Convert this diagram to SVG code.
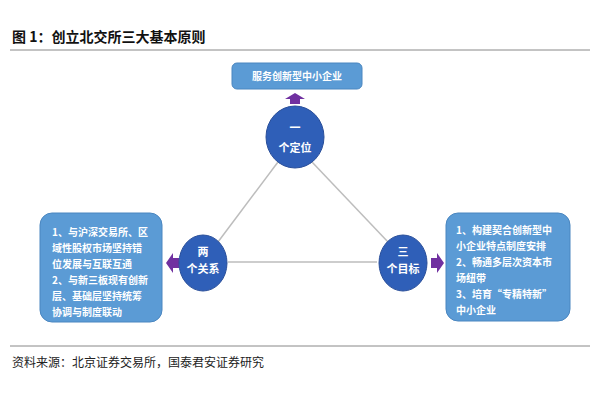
<svg xmlns="http://www.w3.org/2000/svg" width="600" height="400" viewBox="0 0 600 400">
<style>
text{font-family:"Noto Sans CJK SC",sans-serif;}
.t{font-size:14px;font-weight:bold;fill:#111;}
.s{font-size:12px;fill:#222;}
.b{fill:#5b9bd5;stroke:#4a86c0;stroke-width:1;}
.c{fill:#2f5fb8;stroke:#2a4f9a;stroke-width:1;}
.w{fill:#fff;font-size:10px;font-weight:bold;}
.cw{fill:#fff;font-size:11px;font-weight:bold;text-anchor:middle;}
.ln{stroke:#bdbdbd;stroke-width:1.5;fill:none;}
.ar{fill:#7030a0;}
</style>
<rect width="600" height="400" fill="#fff"/>
<text class="t" x="12" y="42">图 1：创立北交所三大基本原则</text>
<line x1="10" y1="50" x2="590" y2="50" stroke="#888" stroke-width="1"/>
<g id="connectors">
<line class="ln" x1="278" y1="162" x2="218" y2="242"/>
<line class="ln" x1="312" y1="162" x2="388" y2="242"/>
<line class="ln" x1="228" y1="262" x2="377" y2="262"/>
<path class="ar" d="M290 104 V99 H285 L295 93 L305 99 H300 V104 Z"/>
<path class="ar" d="M179 258 H173 V253 L166 263 L173 273 V268 H179 Z"/>
<path class="ar" d="M431 258 H437 V253 L444 263 L437 273 V268 H431 Z"/>
</g>
<g id="top-box"><rect class="b" x="232" y="63" width="130" height="26" rx="5"/>
<text class="w" x="297" y="80" text-anchor="middle">服务创新型中小企业</text></g>
<g id="node-top"><ellipse class="c" cx="295" cy="137" rx="29" ry="31"/>
<text class="cw" x="295" y="132">一</text><text class="cw" x="295" y="152" font-size="10">个定位</text></g>
<g id="node-left"><ellipse class="c" cx="203" cy="263" rx="24" ry="28"/>
<text class="cw" x="203" y="256">两</text><text class="cw" x="203" y="273" font-size="9">个关系</text></g>
<g id="node-right"><ellipse class="c" cx="403" cy="263" rx="24" ry="28"/>
<text class="cw" x="403" y="256">三</text><text class="cw" x="403" y="273" font-size="9">个目标</text></g>
<g id="left-box"><rect class="b" x="40" y="213" width="122" height="109" rx="12"/>
<text class="w" x="52" y="236">1、与沪深交易所、区</text>
<text class="w" x="52" y="252">域性股权市场坚持错</text>
<text class="w" x="52" y="268">位发展与互联互通</text>
<text class="w" x="52" y="284">2、与新三板现有创新</text>
<text class="w" x="52" y="300">层、基础层坚持统筹</text>
<text class="w" x="52" y="316">协调与制度联动</text></g>
<g id="right-box"><rect class="b" x="446" y="213" width="124" height="108" rx="12"/>
<text class="w" x="456" y="234">1、构建契合创新型中</text>
<text class="w" x="456" y="250">小企业特点制度安排</text>
<text class="w" x="456" y="266">2、畅通多层次资本市</text>
<text class="w" x="456" y="282">场纽带</text>
<text class="w" x="456" y="298">3、培育“专精特新”</text>
<text class="w" x="456" y="314">中小企业</text></g>
<line x1="10" y1="346" x2="590" y2="346" stroke="#888" stroke-width="1"/>
<text class="s" x="12" y="367">资料来源：北京证券交易所，国泰君安证券研究</text>
</svg>
